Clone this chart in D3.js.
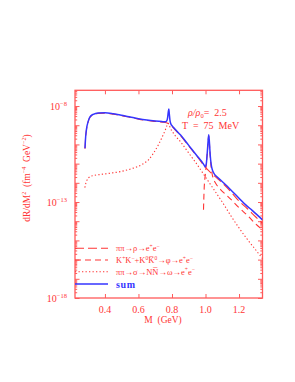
<!DOCTYPE html>
<html><head><meta charset="utf-8">
<script src="https://cdn.jsdelivr.net/npm/d3@7"></script>
<style>body{margin:0;background:#fff}svg{display:block}</style>
</head><body>
<svg id="c" width="295" height="382"></svg>
<script>
// ---- data (log10 of dR/dM^2) ----
const massSum = [0.281,0.285,0.29,0.30,0.31,0.33,0.36,0.40,0.45,0.50,0.55,0.60,0.65,0.70,0.74,0.76,0.768,0.774,0.778,0.781,0.784,0.788,0.793,0.80,0.82,0.85,0.90,0.95,0.99,0.998,1.004,1.009,1.014,1.019,1.023,1.028,1.034,1.04,1.05,1.07,1.09,1.12,1.16,1.20,1.24,1.28,1.34];
const sumLog = [-10.2,-9.6,-9.2,-8.8,-8.58,-8.43,-8.36,-8.35,-8.4,-8.48,-8.57,-8.66,-8.73,-8.78,-8.81,-8.82,-8.78,-8.6,-8.3,-8.16,-8.4,-8.75,-8.92,-9.02,-9.22,-9.5,-10.05,-10.6,-11.05,-11.17,-11.05,-10.6,-10.0,-9.5,-9.85,-10.55,-11.05,-11.3,-11.5,-11.7,-11.85,-12.1,-12.45,-12.8,-13.15,-13.45,-13.93];

const massRho = [0.281,0.285,0.29,0.30,0.31,0.33,0.36,0.40,0.45,0.50,0.55,0.60,0.65,0.70,0.74,0.76,0.78,0.80,0.82,0.85,0.90,0.95,1.0,1.05,1.1,1.15,1.2,1.25,1.3,1.34];
const rhoLog = [-10.22,-9.62,-9.22,-8.82,-8.6,-8.45,-8.38,-8.37,-8.42,-8.5,-8.59,-8.68,-8.75,-8.8,-8.84,-8.86,-8.92,-9.05,-9.25,-9.53,-10.08,-10.63,-11.2,-11.62,-12.0,-12.45,-12.95,-13.35,-13.78,-14.1];

const massPhi = [0.988,0.992,0.996,1.0,1.005,1.01,1.015,1.019,1.022,1.026,1.031,1.037,1.045,1.055,1.07,1.09,1.12,1.15,1.2,1.25,1.3,1.34];
const phiLog = [-13.4,-12.3,-11.8,-11.5,-11.0,-10.5,-9.95,-9.55,-9.75,-10.35,-10.95,-11.4,-11.75,-11.95,-12.15,-12.35,-12.6,-12.85,-13.3,-13.7,-14.15,-14.45];

const massOmega = [0.28,0.285,0.29,0.30,0.31,0.33,0.37,0.43,0.50,0.56,0.62,0.66,0.69,0.72,0.745,0.76,0.77,0.777,0.782,0.79,0.80,0.82,0.85,0.90,0.95,1.0,1.05,1.1,1.15,1.2,1.25,1.3,1.34];
const omegaLog = [-12.25,-12.05,-11.92,-11.76,-11.68,-11.62,-11.57,-11.5,-11.4,-11.26,-11.05,-10.8,-10.45,-10.0,-9.55,-9.25,-9.02,-8.9,-8.95,-9.15,-9.3,-9.55,-9.85,-10.45,-11.05,-11.7,-12.35,-13.0,-13.7,-14.35,-14.95,-15.5,-15.95];

const xTicks = [0.4, 0.6, 0.8, 1.0, 1.2];
const xTickLabels = ["0.4", "0.6", "0.8", "1.0", "1.2"];
const yLabelExps = [-18, -13, -8];
const legendKeys = ["rho", "phi", "omega", "sum"];

// ---- layout ----
const L = 75, R = 262.5, T = 90.3, B = 298;
const RED = "#ff3535", FRAME = "#ff5a5a", BLUE = "#3535ff";
const FONT = "'Liberation Serif', 'DejaVu Serif', serif";

const svg = d3.select("#c");
const x = d3.scaleLinear().domain([0.2214, 1.34]).range([L, R]);
const y = d3.scaleLog().domain([1e-18, Math.pow(10, -7.18)]).range([B, T]);

const majorY = d3.range(-18, -7).map(e => Math.pow(10, e));
const minorY = [];
for (let e = -18; e <= -8; e++) for (let m = 2; m <= 9; m++) {
  const v = m * Math.pow(10, e);
  if (v <= y.domain()[1]) minorY.push(v);
}

svg.append("clipPath").attr("id", "pc").append("rect")
  .attr("x", L).attr("y", T).attr("width", R - L).attr("height", B - T);

function styleAxis(g) {
  g.select(".domain").remove();
  g.selectAll(".tick line").attr("stroke", FRAME).attr("stroke-width", 1);
  g.selectAll(".tick text").remove();
}
svg.append("g").attr("transform", `translate(0,${B})`)
  .call(d3.axisBottom(x).tickValues(xTicks).tickSize(-4).tickFormat("")).call(styleAxis);
svg.append("g").attr("transform", `translate(0,${T})`)
  .call(d3.axisTop(x).tickValues(xTicks).tickSize(-4).tickFormat("")).call(styleAxis);
svg.append("g").attr("transform", `translate(${L},0)`)
  .call(d3.axisLeft(y).tickValues(majorY).tickSize(-4.5).tickFormat("")).call(styleAxis);
svg.append("g").attr("transform", `translate(${L},0)`)
  .call(d3.axisLeft(y).tickValues(minorY).tickSize(-2.2).tickFormat("")).call(styleAxis);
svg.append("g").attr("transform", `translate(${R},0)`)
  .call(d3.axisRight(y).tickValues(majorY).tickSize(-4.5).tickFormat("")).call(styleAxis);
svg.append("g").attr("transform", `translate(${R},0)`)
  .call(d3.axisRight(y).tickValues(minorY).tickSize(-2.2).tickFormat("")).call(styleAxis);

svg.append("rect").attr("x", L).attr("y", T).attr("width", R - L).attr("height", B - T)
  .attr("fill", "none").attr("stroke", FRAME).attr("stroke-width", 1.3);

// rich text helper: segments [text, shift] where shift: 0 normal, -1 sup, 1 sub
function rich(sel, segs, size) {
  let cur = 0;
  segs.forEach(([txt, sh, extra]) => {
    const target = sh === -1 ? -size * 0.38 : sh === 1 ? size * 0.25 : 0;
    const ts = sel.append("tspan").attr("dy", target - cur).text(txt);
    if (sh !== 0) ts.attr("font-size", size * 0.65);
    if (extra) ts.attr("font-style", extra);
    cur = target;
  });
}

// x tick labels
svg.append("g").selectAll("text").data(xTicks).join("text")
  .attr("x", d => x(d)).attr("y", 312.5).attr("text-anchor", "middle")
  .attr("font-family", FONT).attr("font-size", 10).attr("fill", RED)
  .text((d, i) => xTickLabels[i]);

// y tick labels 10^e
yLabelExps.forEach(e => {
  const t = svg.append("text").attr("x", 67).attr("y", y(Math.pow(10, e)) + 3.5)
    .attr("text-anchor", "end").attr("font-family", FONT).attr("font-size", 10).attr("fill", RED);
  rich(t, [["10", 0], ["\u2212" + Math.abs(e), -1]], 10);
});

// axis titles
svg.append("text").attr("x", 163).attr("y", 322.5).attr("text-anchor", "middle")
  .attr("font-family", FONT).attr("font-size", 9.5).attr("fill", RED)
  .attr("xml:space", "preserve").text("M  (GeV)");

const yt = svg.append("text").attr("transform", "translate(30,178) rotate(-90)")
  .attr("text-anchor", "middle").attr("font-family", FONT).attr("font-size", 9.5)
  .attr("fill", RED).attr("xml:space", "preserve");
rich(yt, [["dR/dM", 0], ["2", -1], ["  (fm", 0], ["\u22124", -1], ["  GeV", 0], ["\u22122", -1], [")", 0]], 9.5);

// annotation
const a1 = svg.append("text").attr("x", 188).attr("y", 115.5).attr("font-family", FONT)
  .attr("font-size", 10).attr("fill", RED).attr("xml:space", "preserve");
rich(a1, [["\u03c1/\u03c1", 0, "italic"], ["0", 1], ["=  2.5", 0]], 10);
svg.append("text").attr("x", 182).attr("y", 128.5).attr("font-family", FONT)
  .attr("font-size", 10).attr("fill", RED).attr("xml:space", "preserve")
  .text("T  =  75  MeV");

// curves
const line = d3.line().x(d => x(d[0])).y(d => y(Math.pow(10, d[1]))).curve(d3.curveMonotoneX);
const plot = svg.append("g").attr("clip-path", "url(#pc)");
const series = {
  rho:   {m: massRho,   v: rhoLog,   color: RED,  dash: "9,4",     w: 1.1},
  phi:   {m: massPhi,   v: phiLog,   color: RED,  dash: "6,4",     w: 1.1},
  omega: {m: massOmega, v: omegaLog, color: RED,  dash: "1.3,2.2", w: 1.1},
  sum:   {m: massSum,   v: sumLog,   color: BLUE, dash: null,      w: 1.5}
};
legendKeys.forEach(k => {
  const s = series[k];
  plot.append("path").datum(s.m.map((m, i) => [m, s.v[i]]))
    .attr("d", line).attr("fill", "none").attr("stroke", s.color)
    .attr("stroke-width", s.w).attr("stroke-dasharray", s.dash);
});

// legend
const legRows = [248.3, 260, 271.7, 284];
const lg = svg.append("g");
legendKeys.forEach((k, i) => {
  const s = series[k];
  lg.append("line").attr("x1", L).attr("x2", 108).attr("y1", legRows[i]).attr("y2", legRows[i])
    .attr("stroke", s.color).attr("stroke-width", s.w).attr("stroke-dasharray", s.dash);
});
const legendSegs = [
  [["\u03c0\u03c0\u2192\u03c1\u2192e", 0], ["+", -1], ["e", 0], ["\u2212", -1]],
  [["K", 0], ["+", -1], ["K", 0], ["\u2212", -1], ["+K", 0], ["0", -1], ["K\u0305", 0], ["0", -1],
   ["\u2192\u03c6\u2192e", 0], ["+", -1], ["e", 0], ["\u2212", -1]],
  [["\u03c0\u03c0\u2192\u03c3\u2192NN\u0305\u2192\u03c9\u2192e", 0], ["+", -1], ["e", 0], ["\u2212", -1]]
];
legendSegs.forEach((segs, i) => {
  const t = lg.append("text").attr("x", 116).attr("y", legRows[i] + 3).attr("font-family", FONT)
    .attr("font-size", 8.5).attr("fill", RED);
  rich(t, segs, 8.5);
});
lg.append("text").attr("x", 116).attr("y", legRows[3] + 3.5).attr("font-family", FONT)
  .attr("font-size", 10).attr("font-weight", "bold").attr("letter-spacing", 0.6)
  .attr("fill", BLUE).text("sum");
</script>
</body></html>
